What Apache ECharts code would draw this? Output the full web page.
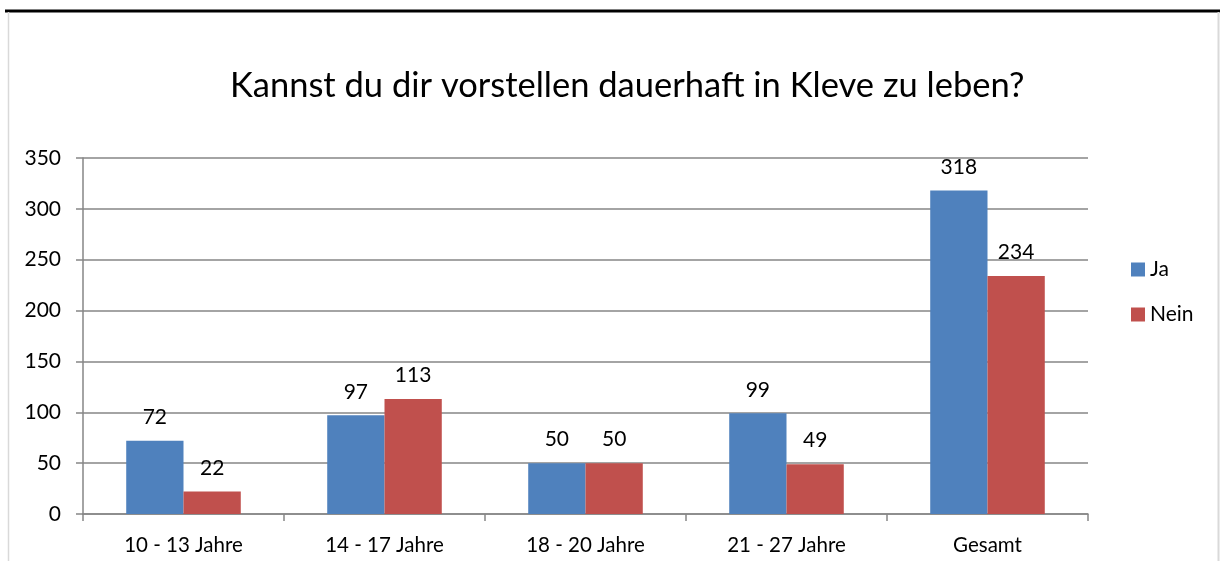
<!DOCTYPE html>
<html>
<head>
<meta charset="utf-8">
<script src="https://cdn.jsdelivr.net/npm/echarts@6/dist/echarts.min.js"></script>
<style>
  html, body { margin: 0; padding: 0; background: #fff; }
  #chart { width: 1220px; height: 561px; }
</style>
</head>
<body>
<div id="chart"></div>
<script>
// data
var categories = ["10 - 13 Jahre", "14 - 17 Jahre", "18 - 20 Jahre", "21 - 27 Jahre", "Gesamt"];
var ja = [72, 97, 50, 99, 318];
var nein = [22, 113, 50, 49, 234];
var yTicks = [0, 50, 100, 150, 200, 250, 300, 350];

var font = "Lato, 'Open Sans', sans-serif";
var myChart = echarts.init(document.getElementById("chart"));

var option = {
  animation: false,
  textStyle: { fontFamily: font },
  title: {
    text: "Kannst du dir vorstellen dauerhaft in Kleve zu leben?",
    left: 225,
    top: 63,
    textStyle: { fontSize: 34.5, fontWeight: "normal", color: "#000", fontFamily: font }
  },
  legend: {
    orient: "vertical",
    left: 1126,
    top: 254,
    itemWidth: 14,
    itemHeight: 14,
    itemGap: 24,
    icon: "rect",
    textStyle: { fontSize: 21, color: "#000", fontFamily: font },
    data: ["Ja", "Nein"]
  },
  graphic: [
    // frame lines
    { type: "line", shape: { x1: 5, y1: 11, x2: 1220, y2: 11 }, style: { stroke: "#000", lineWidth: 3 } },
    { type: "line", shape: { x1: 8.5, y1: 12, x2: 8.5, y2: 561 }, style: { stroke: "#d9d9d9", lineWidth: 1.5 } },
    { type: "line", shape: { x1: 1218.5, y1: 12, x2: 1218.5, y2: 561 }, style: { stroke: "#d9d9d9", lineWidth: 2 } }
  ],
  grid: { left: 83, right: 132, top: 158, bottom: 47 },
  xAxis: {
    type: "category",
    data: categories,
    axisLine: { lineStyle: { color: "#868686", width: 1.5 } },
    axisTick: { show: true, length: 7, lineStyle: { color: "#868686", width: 1.5 } },
    axisLabel: { fontSize: 20.5, color: "#000", margin: 21, fontFamily: font }
  },
  yAxis: {
    type: "value",
    min: 0,
    max: yTicks[yTicks.length - 1],
    interval: 50,
    axisLine: { show: true, lineStyle: { color: "#868686", width: 1.5 } },
    axisTick: { show: true, inside: false, length: 7, lineStyle: { color: "#868686", width: 1.5 } },
    splitLine: { lineStyle: { color: "#868686", width: 1.5 } },
    axisLabel: { fontSize: 21, color: "#000", margin: 22, fontFamily: font }
  },
  series: [
    {
      name: "Ja",
      type: "bar",
      data: ja,
      barWidth: "28.5%",
      barGap: "0%",
      itemStyle: { color: "#4F81BD" },
      label: { show: true, position: "top", distance: 13, fontSize: 21, color: "#000", fontFamily: font }
    },
    {
      name: "Nein",
      type: "bar",
      data: nein,
      barWidth: "28.5%",
      itemStyle: { color: "#C0504D" },
      label: { show: true, position: "top", distance: 13, fontSize: 21, color: "#000", fontFamily: font }
    }
  ]
};

option && myChart.setOption(option);
</script>
</body>
</html>
